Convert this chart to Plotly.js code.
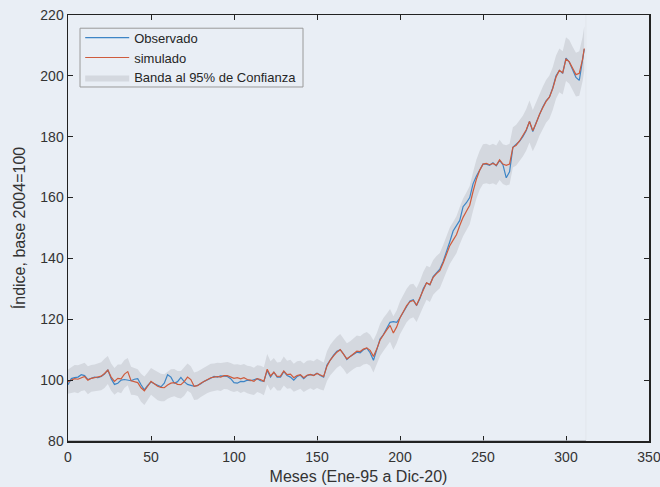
<!DOCTYPE html>
<html>
<head>
<meta charset="utf-8">
<script src="https://cdn.plot.ly/plotly-3.0.1.min.js"></script>
<style>html,body{margin:0;padding:0;background:#E9EEF5;}#chart{width:660px;height:487px;}</style>
</head>
<body>
<div id="chart"></div>
<script>
// Month index (Ene-95 = 0 ... Dic-20 = 311), sampled every 2 months
const months = [0,2,4,6,8,10,12,14,16,18,20,22,24,26,28,30,32,34,36,38,40,42,44,46,48,50,52,54,56,58,
  60,62,64,66,68,70,72,74,76,78,80,82,84,86,88,90,92,94,96,98,100,102,104,106,108,110,112,114,116,118,
  120,122,124,126,128,130,132,134,136,138,140,142,144,146,148,150,152,154,156,158,160,162,164,166,168,170,172,174,176,178,
  180,182,184,186,188,190,192,194,196,198,200,202,204,206,208,210,212,214,216,218,220,222,224,226,228,230,232,234,236,238,
  240,242,244,246,248,250,252,254,256,258,260,262,264,266,268,270,272,274,276,278,280,282,284,286,288,290,292,294,296,298,
  300,302,304,306,308,310,311];

const observado = [
  98.5,100.5,100.8,101.0,101.8,101.5,100.2,100.5,101.0,100.8,
  101.2,102.0,103.4,100.5,98.6,99.0,100.0,100.2,100.0,99.8,
  100.3,100.5,98.5,96.8,98.3,99.4,98.8,98.2,97.8,99.0,
  101.8,101.0,99.0,99.5,100.9,99.5,98.6,98.3,98.0,98.3,
  98.8,99.6,100.0,100.6,101.2,101.0,101.4,101.4,101.2,100.5,
  99.2,99.0,99.6,99.5,100.0,99.8,100.2,100.5,99.8,99.6,
  103.2,101.0,102.6,101.0,101.0,102.8,101.5,101.0,100.0,101.2,
  101.6,100.5,101.5,101.8,101.6,102.3,101.5,101.0,105.0,106.8,
  108.2,109.5,110.0,108.6,106.8,107.8,108.6,109.2,109.0,110.0,
  110.5,109.0,106.5,110.0,113.5,115.0,117.0,119.0,119.2,119.0,
  120.5,122.5,124.5,126.0,126.4,124.5,126.8,130.0,132.0,131.3,
  134.0,135.2,136.5,139.0,142.0,145.5,149.0,151.0,152.5,157.0,
  158.3,160.0,164.5,167.0,169.0,171.0,171.0,170.6,171.4,170.4,
  172.2,170.8,166.5,168.5,176.5,177.4,178.5,180.0,182.0,185.0,
  181.7,184.6,187.5,189.8,191.8,193.0,196.0,200.0,201.8,200.8,
  205.8,204.5,202.0,199.5,198.5,205.0,208.8];

const simulado = [
  99.5,100.0,100.5,100.3,100.8,101.2,100.0,100.6,100.8,101.0,
  101.3,102.2,103.3,101.0,99.6,100.6,100.4,102.0,102.8,99.8,
  99.6,99.2,97.5,96.5,98.0,99.6,98.8,98.0,97.6,97.5,
  98.4,99.0,99.2,98.6,98.5,99.5,101.0,100.2,98.0,98.2,
  99.0,99.6,100.3,100.8,101.0,101.2,101.0,101.5,101.5,101.0,
  100.6,100.8,100.4,100.8,100.2,100.0,99.6,100.5,100.2,99.6,
  103.6,101.4,102.6,101.2,101.3,103.0,101.8,102.0,100.8,101.5,
  101.8,100.8,101.6,101.9,101.5,102.2,101.6,101.2,104.6,106.6,
  108.0,109.2,110.0,108.6,107.0,107.8,108.8,109.5,109.4,110.2,
  110.6,109.8,107.8,110.2,113.2,115.0,116.5,118.0,115.5,117.5,
  120.5,122.5,124.5,125.8,126.2,124.7,127.0,129.8,132.0,131.4,
  133.8,135.0,136.0,138.5,141.5,144.2,146.0,147.8,150.8,153.5,
  155.5,157.5,162.0,166.0,169.0,171.0,171.2,170.8,171.2,170.6,
  172.4,171.0,170.6,171.0,176.5,177.2,178.6,180.2,182.2,185.0,
  182.0,184.4,187.3,189.5,191.6,193.0,195.8,199.6,201.8,201.0,
  205.5,204.6,202.5,200.4,200.8,205.5,209.0];

// Half-width of the 95% confidence band around the simulated series
const bandHalf = [
  4.0,4.3,4.5,4.6,4.4,4.5,4.6,4.4,4.3,4.5,
  4.6,4.8,4.6,4.5,4.4,4.5,4.7,4.6,4.5,4.6,
  4.5,4.4,4.6,4.7,4.5,4.4,4.5,4.6,4.5,4.4,
  4.5,4.6,4.5,4.4,4.5,4.6,4.5,4.4,4.5,4.6,
  4.5,4.4,4.5,4.6,4.5,4.5,4.6,4.4,4.5,4.6,
  4.5,4.4,4.6,4.5,4.5,4.6,4.5,4.4,4.5,4.6,
  5.0,4.8,4.7,4.6,4.7,4.8,4.6,4.7,4.6,4.7,
  4.6,4.7,4.8,4.6,4.7,4.8,4.7,4.6,4.9,5.0,
  5.0,5.1,5.2,5.0,5.1,5.0,5.1,5.2,5.0,5.1,
  5.2,5.1,5.3,5.2,5.3,5.4,5.3,5.4,5.5,5.4,
  5.4,5.5,5.5,5.6,5.5,5.6,5.6,5.7,5.6,5.7,
  5.7,5.8,5.8,5.9,5.9,6.0,6.0,6.1,6.1,6.2,
  6.2,6.3,6.3,6.4,6.4,6.5,6.5,6.4,6.5,6.5,
  6.6,6.5,6.6,6.7,6.6,6.7,6.8,6.7,6.8,6.9,
  6.8,6.9,7.0,6.9,7.0,7.1,7.0,7.1,7.2,7.1,
  7.2,7.2,7.1,7.2,7.3,7.3,7.3];

const xTicks = [0,50,100,150,200,250,300,350];
const yTicks = [80,100,120,140,160,180,200,220];

const upper = simulado.map((v,i)=>v+bandHalf[i]);
const lower = simulado.map((v,i)=>v-bandHalf[i]);
const bandX = months.concat(months.slice().reverse());
const bandY = upper.concat(lower.slice().reverse());

const bg = '#E9EEF5';
const fam = 'Liberation Sans, Arial, sans-serif';
const traces = [
  {x: bandX, y: bandY, type:'scatter', mode:'lines', fill:'toself', fillcolor:'#D4D8DF',
   line:{width:0, color:'#D4D8DF'}, name:'Banda al 95% de Confianza', legendrank:3, hoverinfo:'skip'},
  {x: months, y: observado, type:'scatter', mode:'lines', line:{color:'#3D85C6', width:1.2},
   name:'Observado', legendrank:1},
  {x: months, y: simulado, type:'scatter', mode:'lines', line:{color:'#CF5B3C', width:1.2},
   name:'simulado', legendrank:2}
];

const layout = {
  width:660, height:487,
  paper_bgcolor: bg, plot_bgcolor: bg,
  margin:{l:68, r:11, t:15, b:46},
  font: {family:fam, size:14, color:'#333333'},
  showlegend:true,
  legend:{x:0.021, y:0.982, xanchor:'left', yanchor:'top', bgcolor:'rgba(0,0,0,0)', borderwidth:0,
          font:{family:fam, size:13, color:'#262626'}, itemwidth:44, tracegroupgap:0},
  xaxis:{range:[0,350], tickvals:xTicks, ticktext:xTicks.map(String), ticks:'inside', ticklen:5, tickcolor:'#222',
         showline:true, linecolor:'#222', linewidth:1.5, mirror:'ticks', showgrid:false, zeroline:false,
         ticklabelstandoff:3, ticklabeloverflow:'allow', tickfont:{size:14, color:'#333333'},
         title:{text:'Meses (Ene-95 a Dic-20)', font:{size:16, color:'#333333'}, standoff:6}, automargin:false},
  yaxis:{range:[80,220], tickvals:yTicks, ticktext:yTicks.map(String), ticks:'inside', ticklen:5, tickcolor:'#222',
         showline:true, linecolor:'#222', linewidth:1.5, mirror:'ticks', showgrid:false, zeroline:false,
         ticklabeloverflow:'allow', tickfont:{size:14, color:'#333333'},
         title:{text:'Índice, base 2004=100', font:{size:16, color:'#333333'}, standoff:10}, automargin:false},
  shapes:[
    {type:'line', xref:'x', yref:'y', x0:0, x1:312, y0:80, y1:80, line:{color:'#A9ADB3', width:1.6}, layer:'above'},
    {type:'line', xref:'x', yref:'y', x0:312, x1:312, y0:80, y1:220, line:{color:'#E2E6EC', width:1}, layer:'below'},
    {type:'rect', xref:'paper', yref:'paper', x0:0.0207, x1:0.4045, y0:0.831, y1:0.969,
     line:{color:'#9A9A9A', width:1}, fillcolor:'rgba(0,0,0,0)', layer:'above'}
  ]
};

Plotly.newPlot('chart', traces, layout, {displayModeBar:false, staticPlot:true});
</script>
</body>
</html>
